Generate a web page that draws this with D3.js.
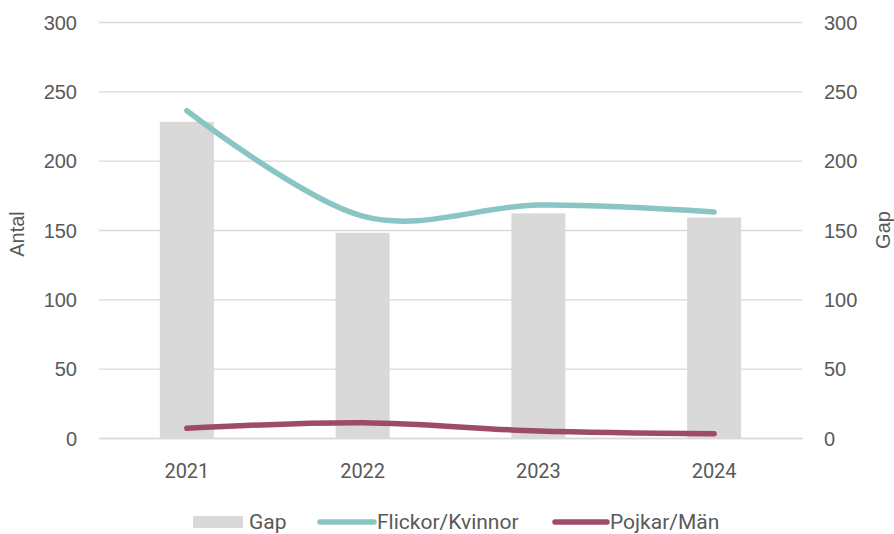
<!DOCTYPE html>
<html><head><meta charset="utf-8">
<script src="https://cdn.jsdelivr.net/npm/d3@7"></script>
<style>body{margin:0;background:#fff}svg{display:block}</style>
</head><body>
<svg id="c" width="894" height="534"></svg>
<script>
const years = ["2021", "2022", "2023", "2024"];
const gap = [228, 148, 162, 159];
const flickor = [236, 160, 168, 163];
const pojkar = [7, 11, 5, 3];
const yTicks = [0, 50, 100, 150, 200, 250, 300];
const legendLabels = ["Gap", "Flickor/Kvinnor", "Pojkar/Män"];

const svg = d3.select("#c");
const W = 894, H = 534;
const m = {l: 99, r: 92, t: 22, b: 96};
const x = d3.scaleBand().domain(years).range([m.l, W - m.r]).padding(0);
const y = d3.scaleLinear().domain([0, 300]).range([H - m.b, m.t]);
const y2 = d3.scaleLinear().domain([0, 300]).range([H - m.b, m.t]);
const txt = "#595959";
const gridC = "#d9d9d9";
const barC = "#d9d9d9";
const tealC = "#88c5c3";
const maroonC = "#9e4b68";
const axisFont = "'Liberation Sans', Arial, sans-serif";
const catFont = "Roboto, 'Noto Sans', sans-serif";

// gridlines
svg.append("g").selectAll("line").data(yTicks).join("line")
  .attr("x1", m.l).attr("x2", W - m.r)
  .attr("y1", d => y(d) + 0.5).attr("y2", d => y(d) + 0.5)
  .attr("stroke", gridC).attr("stroke-width", 1.3);

// left axis
const la = svg.append("g").attr("transform", `translate(${m.l - 22},0)`)
  .call(d3.axisLeft(y).tickValues(yTicks).tickSize(0).tickPadding(0));
la.select(".domain").remove();
la.selectAll("text").attr("font-family", axisFont).attr("font-size", 20).attr("fill", txt).attr("dy", "0.35em");

// right axis
const ra = svg.append("g").attr("transform", `translate(${W - m.r + 22},0)`)
  .call(d3.axisRight(y2).tickValues(yTicks).tickSize(0).tickPadding(0));
ra.select(".domain").remove();
ra.selectAll("text").attr("font-family", axisFont).attr("font-size", 20).attr("fill", txt).attr("dy", "0.35em");

// bars
const bw = 54;
svg.append("g").selectAll("rect").data(years).join("rect")
  .attr("x", d => x(d) + x.bandwidth() / 2 - bw / 2)
  .attr("width", bw)
  .attr("y", (d, i) => y2(gap[i]))
  .attr("height", (d, i) => y2(0) - y2(gap[i]))
  .attr("fill", barC);

// bottom axis
const ba = svg.append("g").attr("transform", `translate(0,${H - m.b})`)
  .call(d3.axisBottom(x).tickSize(0).tickPadding(0));
ba.select(".domain").attr("stroke", gridC).attr("stroke-width", 1.3);
ba.selectAll("text").attr("font-family", catFont).attr("font-size", 20).attr("fill", txt)
  .attr("dy", 0).attr("y", 40);

// lines
const line = (arr) => d3.line()
  .x((d, i) => x(years[i]) + x.bandwidth() / 2)
  .y(d => y(d))
  .curve(d3.curveCardinal.tension(0))(arr);
svg.append("path").attr("d", line(flickor)).attr("fill", "none")
  .attr("stroke", tealC).attr("stroke-width", 5.5).attr("stroke-linecap", "round");
svg.append("path").attr("d", line(pojkar)).attr("fill", "none")
  .attr("stroke", maroonC).attr("stroke-width", 5.5).attr("stroke-linecap", "round");

// axis titles
svg.append("text").attr("transform", `translate(24,234) rotate(-90)`)
  .attr("text-anchor", "middle").attr("font-family", axisFont).attr("font-size", 20).attr("fill", txt).text("Antal");
svg.append("text").attr("transform", `translate(890,230) rotate(-90)`)
  .attr("text-anchor", "middle").attr("font-family", axisFont).attr("font-size", 20).attr("fill", txt).text("Gap");

// legend
const ly = 522;
const lf = 21;
const lg = svg.append("g");
lg.append("rect").attr("x", 193).attr("y", ly - 6).attr("width", 50).attr("height", 12).attr("fill", barC);
lg.append("text").attr("x", 249).attr("y", ly).attr("dy", "0.35em").attr("font-family", catFont).attr("font-size", lf).attr("fill", txt).text(legendLabels[0]);
lg.append("line").attr("x1", 320).attr("x2", 374).attr("y1", ly).attr("y2", ly).attr("stroke", tealC).attr("stroke-width", 5.5).attr("stroke-linecap", "round");
lg.append("text").attr("x", 377).attr("y", ly).attr("dy", "0.35em").attr("font-family", catFont).attr("font-size", lf).attr("fill", txt).text(legendLabels[1]);
lg.append("line").attr("x1", 555).attr("x2", 607).attr("y1", ly).attr("y2", ly).attr("stroke", maroonC).attr("stroke-width", 5.5).attr("stroke-linecap", "round");
lg.append("text").attr("x", 610).attr("y", ly).attr("dy", "0.35em").attr("font-family", catFont).attr("font-size", lf).attr("fill", txt).text(legendLabels[2]);
</script>
</body></html>
